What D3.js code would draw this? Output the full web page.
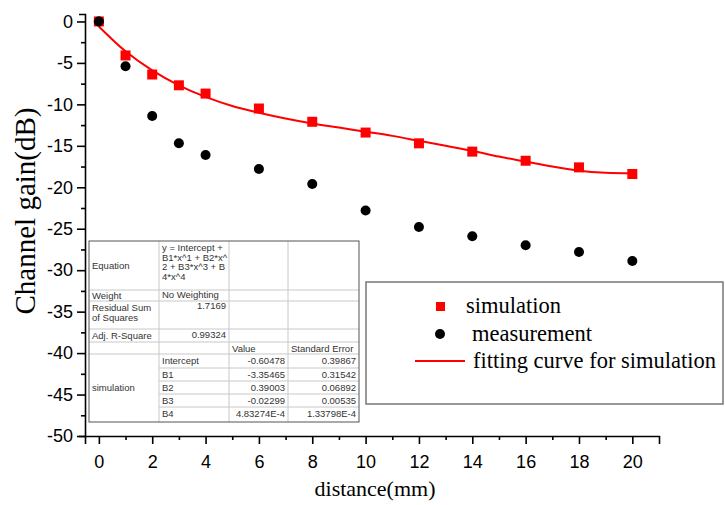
<!DOCTYPE html>
<html>
<head>
<meta charset="utf-8">
<script src="https://cdn.jsdelivr.net/npm/d3@7/dist/d3.min.js"></script>
<style>
  html, body { margin: 0; padding: 0; background: #fff; }
  svg { display: block; }
</style>
</head>
<body>
<svg id="chart" width="725" height="505"></svg>
<script>
// ---- data ----
const distance = [0, 1, 2, 3, 4, 6, 8, 10, 12, 14, 16, 18, 20];
const simulation = [0, -4.1, -6.4, -7.7, -8.7, -10.5, -12.1, -13.4, -14.7, -15.7, -16.8, -17.6, -18.4];
const measurement = [0, -5.4, -11.4, -14.7, -16.1, -17.8, -19.6, -22.8, -24.8, -25.9, -27.0, -27.8, -28.9];
const fitX = [0, 1, 2, 3, 4, 5, 6, 7, 8, 9, 10, 11, 12, 13, 14, 15, 16, 17, 18, 19, 20];
const fitY = [-0.6, -3.6, -5.9, -7.7, -9.1, -10.2, -11.0, -11.7, -12.3, -12.8, -13.3, -13.8, -14.4, -15.0, -15.6, -16.3, -16.9, -17.5, -18.0, -18.25, -18.3];
const xTicks = [0, 2, 4, 6, 8, 10, 12, 14, 16, 18, 20];
const xMinorTicks = [1, 3, 5, 7, 9, 11, 13, 15, 17, 19];
const yTicks = [0, -5, -10, -15, -20, -25, -30, -35, -40, -45, -50];
const yMinorTicks = [-2.5, -7.5, -12.5, -17.5, -22.5, -27.5, -32.5, -37.5, -42.5, -47.5];
const legendLabels = ["simulation", "measurement", "fitting curve for simulation"];
const tableEquation = ["y = Intercept +", "B1*x^1 + B2*x^", "2 + B3*x^3 + B", "4*x^4"];
const tableParams = ["Intercept", "B1", "B2", "B3", "B4"];
const tableValues = ["-0.60478", "-3.35465", "0.39003", "-0.02299", "4.83274E-4"];
const tableErrors = ["0.39867", "0.31542", "0.06892", "0.00535", "1.33798E-4"];

// ---- layout ----
const svg = d3.select("#chart");
const x = d3.scaleLinear().domain([-0.52, 21]).range([85, 659]);
const y = d3.scaleLinear().domain([-50, 0.9]).range([436, 14]);
const sans = "Arial, 'Liberation Sans', sans-serif";
const serif = "'Times New Roman', 'Liberation Serif', serif";

// axes
const xAxis = svg.append("g").attr("transform", "translate(0,436)")
  .call(d3.axisBottom(x).tickValues(xTicks).tickSize(8).tickSizeOuter(8).tickFormat(d => String(d)));
const xMinor = svg.append("g").attr("transform", "translate(0,436)")
  .call(d3.axisBottom(x).tickValues(xMinorTicks).tickSize(4).tickSizeOuter(0).tickFormat(""));
const yAxis = svg.append("g").attr("transform", "translate(85,0)")
  .call(d3.axisLeft(y).tickValues(yTicks).tickSize(8).tickSizeOuter(6).tickFormat(d => String(d)));
const yMinor = svg.append("g").attr("transform", "translate(85,0)")
  .call(d3.axisLeft(y).tickValues(yMinorTicks).tickSize(4).tickSizeOuter(0).tickFormat(""));
[xAxis, xMinor, yAxis, yMinor].forEach(g => {
  g.selectAll("path, line").attr("stroke", "#000").attr("stroke-width", 1.6);
  g.selectAll("text").attr("fill", "#000").style("font-family", sans).style("font-size", "18px");
});
xMinor.select("path").remove();
yMinor.select("path").remove();
xAxis.selectAll("text").attr("dy", "1.15em");
yAxis.selectAll("text").attr("x", -12);

// axis titles
svg.append("text").attr("x", 375).attr("y", 496).attr("text-anchor", "middle")
  .style("font-family", serif).style("font-size", "22px").text("distance(mm)");
svg.append("text").attr("transform", "translate(35,211) rotate(-90)").attr("text-anchor", "middle")
  .style("font-family", serif).style("font-size", "29px").text("Channel gain(dB)");

// fitting curve
const fitPts = fitX.map((d, i) => [d, fitY[i]]);
svg.append("path").datum(fitPts)
  .attr("d", d3.line().x(d => x(d[0])).y(d => y(d[1])).curve(d3.curveCatmullRom))
  .attr("fill", "none").attr("stroke", "#ff0000").attr("stroke-width", 2);

// measurement dots
svg.append("g").selectAll("circle").data(distance).join("circle")
  .attr("cx", d => x(d)).attr("cy", (d, i) => y(measurement[i])).attr("r", 5).attr("fill", "#000");

// simulation squares
const sq = 10;
svg.append("g").selectAll("rect").data(distance).join("rect")
  .attr("x", d => x(d) - sq / 2).attr("y", (d, i) => y(simulation[i]) - sq / 2)
  .attr("width", sq).attr("height", sq).attr("fill", "#ff0000");
// first black dot drawn on top (as in reference)
svg.append("circle").attr("cx", x(distance[0])).attr("cy", y(measurement[0])).attr("r", 5).attr("fill", "#000");

// ---- results table ----
const colX = [89, 159, 229, 288, 359];
const rowY = [241, 290, 301, 329, 342, 354, 368, 381, 394, 407, 422];
const tbl = svg.append("g");
tbl.append("rect").attr("x", colX[0]).attr("y", rowY[0]).attr("width", colX[4] - colX[0]).attr("height", rowY[10] - rowY[0])
  .attr("fill", "#fff");
const grid = "#c8c8c8";
colX.slice(1, 4).forEach(cx => tbl.append("line").attr("x1", cx).attr("x2", cx).attr("y1", rowY[0]).attr("y2", rowY[10])
  .attr("stroke", grid).attr("stroke-width", 1));
rowY.slice(1, 10).forEach((ry, i) => {
  const startX = (i + 1) >= 6 ? colX[1] : colX[0];
  tbl.append("line").attr("x1", startX).attr("x2", colX[4]).attr("y1", ry).attr("y2", ry)
    .attr("stroke", grid).attr("stroke-width", 1);
});
tbl.append("rect").attr("x", colX[0]).attr("y", rowY[0]).attr("width", colX[4] - colX[0]).attr("height", rowY[10] - rowY[0])
  .attr("fill", "none").attr("stroke", "#555").attr("stroke-width", 1);

function cell(txt, xx, yy, anchor) {
  tbl.append("text").attr("x", xx).attr("y", yy).attr("text-anchor", anchor || "start")
    .style("font-family", sans).style("font-size", "9.5px").attr("fill", "#333").text(txt);
}
cell("Equation", colX[0] + 3, 269);
tableEquation.forEach((t, i) => cell(t, colX[1] + 3, 251 + i * 9.7));
cell("Weight", colX[0] + 3, 299);
cell("No Weighting", colX[1] + 3, 298);
cell("Residual Sum", colX[0] + 3, 311);
cell("of Squares", colX[0] + 3, 321);
cell("1.7169", colX[2] - 3, 309, "end");
cell("Adj. R-Square", colX[0] + 3, 339);
cell("0.99324", colX[2] - 3, 338, "end");
cell("Value", colX[2] + 3, 352);
cell("Standard Error", colX[3] + 3, 352);
cell("simulation", colX[0] + 3, 391);
tableParams.forEach((t, i) => {
  const by = rowY[5 + i] + 10;
  cell(t, colX[1] + 3, by);
  cell(tableValues[i], colX[3] - 3, by, "end");
  cell(tableErrors[i], colX[4] - 3, by, "end");
});

// ---- legend ----
const lg = svg.append("g");
lg.append("rect").attr("x", 366).attr("y", 282).attr("width", 357).attr("height", 122)
  .attr("fill", "#fff").attr("stroke", "#777").attr("stroke-width", 1.5);
lg.append("rect").attr("x", 436).attr("y", 302).attr("width", 9).attr("height", 9).attr("fill", "#ff0000");
lg.append("circle").attr("cx", 440).attr("cy", 334).attr("r", 5).attr("fill", "#000");
lg.append("line").attr("x1", 415).attr("x2", 465).attr("y1", 361).attr("y2", 361)
  .attr("stroke", "#ff0000").attr("stroke-width", 2);
const lgX = [466, 472, 473];
const lgY = [313, 341, 368];
legendLabels.forEach((t, i) => lg.append("text").attr("x", lgX[i]).attr("y", lgY[i])
  .style("font-family", serif).style("font-size", "22.5px").attr("fill", "#000").text(t));
</script>
</body>
</html>
